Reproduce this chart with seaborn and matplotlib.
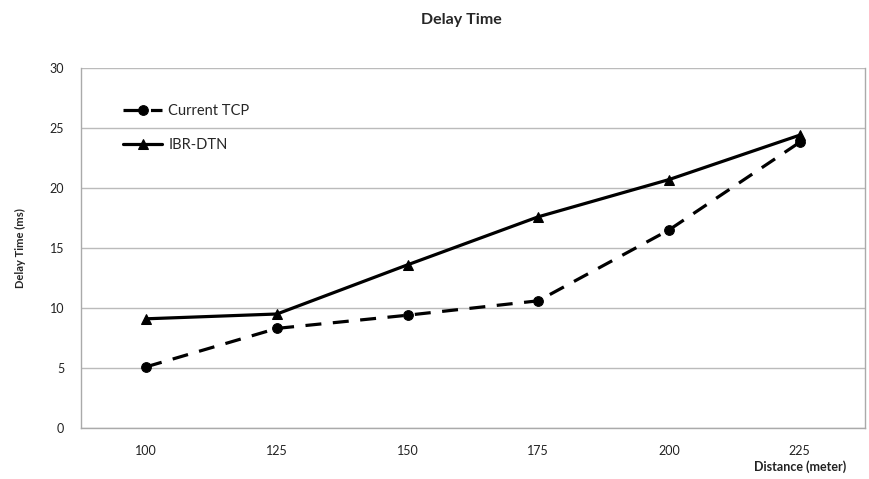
import matplotlib
matplotlib.use("Agg")
import matplotlib.pyplot as plt
import numpy as np
import pandas as pd
import seaborn as sns

distances = ["100", "125", "150", "175", "200", "225"]
current_tcp = [5.1, 8.3, 9.4, 10.6, 16.5, 23.8]
ibr_dtn = [9.1, 9.5, 13.6, 17.6, 20.7, 24.4]
series_names = ["Current TCP", "IBR-DTN"]

df = pd.DataFrame({
    "Distance": distances * 2,
    "Delay": current_tcp + ibr_dtn,
    "Series": [series_names[0]] * len(distances) + [series_names[1]] * len(distances),
})

sns.set_theme(style="white")
plt.rcParams["font.family"] = ["Lato", "DejaVu Sans"]

fig = plt.figure(figsize=(8.7, 4.79), dpi=100)
ax = fig.add_axes([0.0931, 0.1065, 0.901, 0.7515])

sns.lineplot(
    data=df, x="Distance", y="Delay", hue="Series", style="Series",
    palette=["black", "black"],
    dashes={"Current TCP": (5, 3.6), "IBR-DTN": ""},
    markers={"Current TCP": "o", "IBR-DTN": "^"},
    markersize=7, linewidth=2.3, markeredgecolor="black",
    sort=False, ax=ax,
)

ax.set_xlim(-0.5, len(distances) - 0.5)
ax.set_ylim(0, 30)
ax.set_yticks(np.arange(0, 31, 5))
ax.set_xticks(range(len(distances)))
ax.set_xticklabels(distances)
ax.set_xticks(np.arange(-0.5, len(distances), 1), minor=True)
ax.tick_params(axis="x", which="major", length=0, pad=12, labelsize=9, colors="#222222")
ax.tick_params(axis="x", which="minor", length=5, width=0.8, color="#999999", direction="out")
ax.tick_params(axis="y", length=5, width=0.8, color="#999999", direction="out",
               labelsize=9, labelcolor="#222222", pad=7)
ax.yaxis.grid(True, color="#bbbbbb", linewidth=1)
ax.xaxis.grid(False)

for side in ["left", "bottom", "right", "top"]:
    ax.spines[side].set_color("#aaaaaa")
    ax.spines[side].set_linewidth(1)
ax.spines["top"].set_visible(False)

ax.set_xlabel("")
ax.set_ylabel("Delay Time (ms)", fontsize=8, fontweight="bold", labelpad=17)
fig.text(0.92, 0.012, "Distance (meter)", fontsize=9, fontweight="bold",
         ha="center", va="bottom", color="#222222")
fig.suptitle("Delay Time", fontsize=11.5, fontweight="bold", y=0.972, x=0.53)

leg = ax.legend(loc="upper left", bbox_to_anchor=(0.0536, 0.90), frameon=False,
                borderpad=0, borderaxespad=0,
                handlelength=2.7, fontsize=10.5, labelspacing=1.35, handletextpad=0.4)

fig.savefig("out.png", dpi=100)
